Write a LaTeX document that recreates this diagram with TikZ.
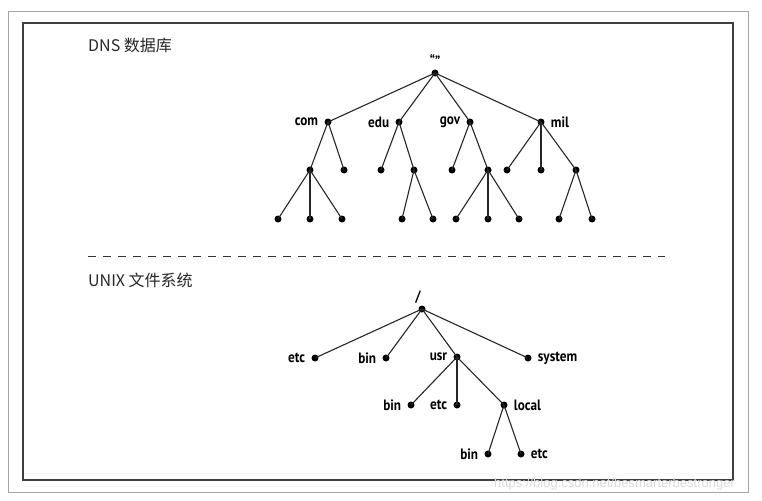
\documentclass[tikz,border=0pt]{standalone}
\usepackage{fontspec}
\setmainfont{Noto Sans CJK SC}
\newfontfamily\treefont[FakeStretch=0.88]{PT Sans}
\newfontfamily\wmfont{Liberation Sans}
\tikzset{
  dot/.style={circle, fill=black, inner sep=0pt, minimum size=7pt},
  edge/.style={line width=1.1pt, black!85},
  lbl/.style={font=\treefont\bfseries\fontsize{15}{16}\selectfont, inner sep=1pt},
  every label/.style={label distance=5pt},
  title/.style={font=\fontsize{16}{18}\selectfont, text=black!85, anchor=west, inner sep=0pt}
}
\begin{document}
\begin{tikzpicture}[x=1pt,y=-1pt]
\useasboundingbox (0,0) rectangle (762,500);
% frames
\draw[black!35, line width=1pt] (8,12) rectangle (748,492);
\draw[black!75, line width=1.3pt] (23,23) rectangle (733,480);
% titles
\node[title] (t1) at (88,45) {DNS 数据库};
\node[title] (t2) at (88,280) {UNIX 文件系统};
\coordinate (dl) at (88,256);
\coordinate (dr) at (665,256);
\draw[black!80, line width=1pt, dash pattern=on 8pt off 7pt] (dl) -- (dr);

% DNS tree
\node[dot, label={[lbl, label distance=2pt]above:“”}] (r) at (435,73) {};
\node[dot, label={[lbl]left:com}] (com) at (328,122) {};
\node[dot, label={[lbl]left:edu}] (edu) at (399,122) {};
\node[dot, label={[lbl]left:gov}] (gov) at (470,122) {};
\node[dot, label={[lbl]right:mil}] (mil) at (541,122) {};
\foreach \n in {com,edu,gov,mil} \draw[edge] (r.center) -- (\n.center);
% level 2
\node[dot] (c1) at (310,170) {};
\node[dot] (c2) at (344,170) {};
\node[dot] (e1) at (381,170) {};
\node[dot] (e2) at (414,170) {};
\node[dot] (g1) at (452,170) {};
\node[dot] (g2) at (488,170) {};
\node[dot] (m1) at (507,170) {};
\node[dot] (m2) at (541,170) {};
\node[dot] (m3) at (576,170) {};
\draw[edge] (com.center) -- (c1.center);
\draw[edge] (com.center) -- (c2.center);
\draw[edge] (edu.center) -- (e1.center);
\draw[edge] (edu.center) -- (e2.center);
\draw[edge] (gov.center) -- (g1.center);
\draw[edge] (gov.center) -- (g2.center);
\draw[edge] (mil.center) -- (m1.center);
\draw[edge] (mil.center) -- (m2.center);
\draw[edge] (mil.center) -- (m3.center);
% level 3
\node[dot] (c11) at (278,219) {};
\node[dot] (c12) at (310,219) {};
\node[dot] (c13) at (342,219) {};
\node[dot] (e21) at (402,219) {};
\node[dot] (e22) at (433,219) {};
\node[dot] (g21) at (456,219) {};
\node[dot] (g22) at (488,219) {};
\node[dot] (g23) at (519,219) {};
\node[dot] (m31) at (559,219) {};
\node[dot] (m32) at (592,219) {};
\foreach \n in {c11,c12,c13} \draw[edge] (c1.center) -- (\n.center);
\foreach \n in {e21,e22} \draw[edge] (e2.center) -- (\n.center);
\foreach \n in {g21,g22,g23} \draw[edge] (g2.center) -- (\n.center);
\foreach \n in {m31,m32} \draw[edge] (m3.center) -- (\n.center);

% UNIX tree
\node[dot, label={[lbl, xshift=-4pt, label distance=1pt]above:/}] (u) at (422,309) {};
\node[dot, label={[lbl]left:etc}] (uetc) at (315,358) {};
\node[dot, label={[lbl]left:bin}] (ubin) at (386,358) {};
\node[dot, label={[lbl]left:usr}] (usr) at (457,357) {};
\node[dot, label={[lbl]right:system}] (sys) at (528,358) {};
\foreach \n in {uetc,ubin,usr,sys} \draw[edge] (u.center) -- (\n.center);
\node[dot, label={[lbl]left:bin}] (ub2) at (411,405) {};
\node[dot, label={[lbl]left:etc}] (ue2) at (457,405) {};
\node[dot, label={[lbl]right:local}] (loc) at (504,405) {};
\foreach \n in {ub2,ue2,loc} \draw[edge] (usr.center) -- (\n.center);
\node[dot, label={[lbl]left:bin}] (lb) at (488,454) {};
\node[dot, label={[lbl]right:etc}] (le) at (521,454) {};
\foreach \n in {lb,le} \draw[edge] (loc.center) -- (\n.center);

% watermark
\node[font=\wmfont\fontsize{13}{14}\selectfont, text=black!14, anchor=west, inner sep=0pt] (wm) at (494,484) {https://blog.csdn.net/besmarterbestronger};
\end{tikzpicture}
\end{document}
